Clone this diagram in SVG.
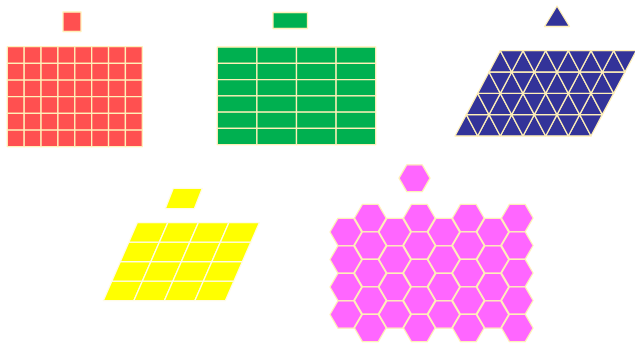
<svg xmlns="http://www.w3.org/2000/svg" xmlns:xlink="http://www.w3.org/1999/xlink" width="635" height="344" viewBox="0 0 635 344">
<style>
.t{stroke:#fff0b8;stroke-width:1.3;stroke-linejoin:round}
.red{fill:#ff5050}
.grn{fill:#00b050}
.blu{fill:#333399}
.yel{fill:#ffff00;stroke:#fffbe6}
.mag{fill:#ff66ff}
</style>
<defs>
<rect id="rc" class="t red" width="16.875" height="16.67"/>
<g id="redRow">
<use href="#rc" x="0"/><use href="#rc" x="16.875"/><use href="#rc" x="33.75"/><use href="#rc" x="50.625"/>
<use href="#rc" x="67.5"/><use href="#rc" x="84.375"/><use href="#rc" x="101.25"/><use href="#rc" x="118.125"/>
</g>
<rect id="gc" class="t grn" width="39.6" height="16.28"/>
<g id="grnRow">
<use href="#gc" x="0"/><use href="#gc" x="39.6"/><use href="#gc" x="79.2"/><use href="#gc" x="118.8"/>
</g>
<g id="bluRow" class="t blu">
<polygon points="0,0 22.67,0 11.33,-21.33"/>
<polygon points="22.67,0 45.33,0 34,-21.33"/>
<polygon points="45.33,0 68,0 56.67,-21.33"/>
<polygon points="68,0 90.67,0 79.33,-21.33"/>
<polygon points="90.67,0 113.33,0 102,-21.33"/>
<polygon points="113.33,0 136,0 124.67,-21.33"/>
<polygon points="11.33,-21.33 34,-21.33 22.67,0"/>
<polygon points="34,-21.33 56.67,-21.33 45.33,0"/>
<polygon points="56.67,-21.33 79.33,-21.33 68,0"/>
<polygon points="79.33,-21.33 102,-21.33 90.67,0"/>
<polygon points="102,-21.33 124.67,-21.33 113.33,0"/>
<polygon points="124.67,-21.33 147.33,-21.33 136,0"/>
</g>
<polygon id="yc" class="t yel" points="0,0 30.5,0 39,-19.5 8.5,-19.5"/>
<g id="yelRow">
<use href="#yc" x="0"/><use href="#yc" x="30.5"/><use href="#yc" x="61"/><use href="#yc" x="91.5"/>
</g>
<polygon id="hx" class="t mag" points="-15.8,0 -7.9,-13.68 7.9,-13.68 15.8,0 7.9,13.68 -7.9,13.68"/>
<g id="hexEven">
<use href="#hx" y="232"/><use href="#hx" y="259.5"/><use href="#hx" y="287"/><use href="#hx" y="314.5"/>
</g>
<g id="hexOdd">
<use href="#hx" y="218"/><use href="#hx" y="245.5"/><use href="#hx" y="273"/><use href="#hx" y="300.5"/><use href="#hx" y="328"/>
</g>
</defs>

<g id="squares">
<rect class="t red" x="63" y="12" width="18" height="19.5"/>
<use href="#redRow" x="7.3" y="46.7"/>
<use href="#redRow" x="7.3" y="63.37"/>
<use href="#redRow" x="7.3" y="80.04"/>
<use href="#redRow" x="7.3" y="96.71"/>
<use href="#redRow" x="7.3" y="113.38"/>
<use href="#redRow" x="7.3" y="130.05"/>
</g>

<g id="rectangles">
<rect class="t grn" x="273" y="12.5" width="34.5" height="16"/>
<use href="#grnRow" x="217.3" y="47"/>
<use href="#grnRow" x="217.3" y="63.28"/>
<use href="#grnRow" x="217.3" y="79.56"/>
<use href="#grnRow" x="217.3" y="95.84"/>
<use href="#grnRow" x="217.3" y="112.12"/>
<use href="#grnRow" x="217.3" y="128.4"/>
</g>

<g id="triangles">
<polygon class="t blu" points="557,6 569.5,26.5 544.5,26.5"/>
<use href="#bluRow" x="455" y="136"/>
<use href="#bluRow" x="466.33" y="114.67"/>
<use href="#bluRow" x="477.67" y="93.33"/>
<use href="#bluRow" x="489" y="72"/>
</g>

<g id="parallelograms">
<polygon class="t yel" points="173.3,188.3 202.3,188.3 194.3,208.7 165.3,208.7"/>
<use href="#yelRow" x="103.3" y="300.7"/>
<use href="#yelRow" x="111.8" y="281.2"/>
<use href="#yelRow" x="120.3" y="261.7"/>
<use href="#yelRow" x="128.8" y="242.2"/>
</g>

<g id="hexagons">
<polygon class="t mag" points="399,178.2 406.75,164.8 422.25,164.8 430,178.2 422.25,191.6 406.75,191.6"/>
<use href="#hexEven" x="345.8"/>
<use href="#hexOdd" x="370.3"/>
<use href="#hexEven" x="394.8"/>
<use href="#hexOdd" x="419.3"/>
<use href="#hexEven" x="443.8"/>
<use href="#hexOdd" x="468.3"/>
<use href="#hexEven" x="492.8"/>
<use href="#hexOdd" x="517.3"/>
</g>
</svg>
